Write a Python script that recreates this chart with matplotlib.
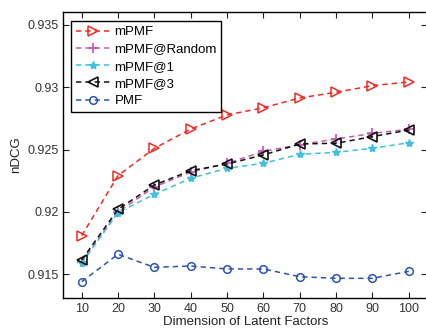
import matplotlib
matplotlib.use("Agg")
import matplotlib.pyplot as plt

plt.rcParams['font.family'] = ['Liberation Sans', 'DejaVu Sans']

dims = [10, 20, 30, 40, 50, 60, 70, 80, 90, 100]
mpmf = [0.91809, 0.92291, 0.9251, 0.92665, 0.92778, 0.92836, 0.92914, 0.9296, 0.93013, 0.93043]
mpmf_random = [0.9160, 0.9200, 0.9220, 0.9232, 0.9239, 0.92485, 0.9254, 0.92585, 0.9263, 0.92663]
mpmf_1 = [0.91587, 0.91995, 0.92141, 0.9227, 0.9235, 0.9239, 0.92462, 0.92478, 0.9251, 0.92555]
mpmf_3 = [0.91614, 0.92021, 0.92216, 0.92331, 0.92384, 0.92457, 0.92545, 0.92551, 0.92604, 0.92657]
pmf = [0.9144, 0.9166, 0.91555, 0.91566, 0.91542, 0.91542, 0.9148, 0.91467, 0.91467, 0.91523]

xticks = [10, 20, 30, 40, 50, 60, 70, 80, 90, 100]
yticks = [0.915, 0.92, 0.925, 0.93, 0.935]
ytick_labels = ['0.915', '0.92', '0.925', '0.93', '0.935']

fig = plt.figure(figsize=(4.26, 3.31), dpi=100)
ax = fig.add_axes([63.5/426, 1-298/331, (427-63.5)/426, (298-12)/331])

lw = 1.1
dash = (3.5, 2.6)
ax.plot(dims, mpmf, linestyle='--', dashes=dash, color='#ee2b24', marker='>', markerfacecolor='none',
        markeredgecolor='#ee2b24', markersize=6.5, markeredgewidth=1.1, lw=lw, label='mPMF')
ax.plot(dims, mpmf_random, linestyle='--', dashes=dash, color='#c75bb4', marker='+', markersize=6.5,
        markeredgewidth=1.3, lw=lw, label='mPMF@Random')
ax.plot(dims, mpmf_1, linestyle='--', dashes=dash, color='#3fc0dc', marker='*', markersize=6,
        markeredgewidth=1.0, lw=lw, label='mPMF@1')
ax.plot(dims, mpmf_3, linestyle='--', dashes=dash, color='#111111', marker='<', markerfacecolor='none',
        markersize=6.5, markeredgewidth=1.2, lw=lw, label='mPMF@3')
ax.plot(dims, pmf, linestyle='--', dashes=dash, color='#2d54b0', marker='o', markerfacecolor='none',
        markersize=5.5, markeredgewidth=1.1, lw=lw, label='PMF')

ax.set_xlim(5, 105)
ax.set_ylim(0.91309, 0.93604)
ax.set_xticks(xticks)
ax.set_yticks(yticks)
ax.set_yticklabels(ytick_labels)
ax.tick_params(direction='in', top=True, right=True, labelsize=9, length=4,
               color='#222222', labelcolor='#333333')
for s in ax.spines.values():
    s.set_linewidth(1.0)
ax.set_xlabel('Dimension of Latent Factors', fontsize=9.5, labelpad=1, color='#222222')
ax.set_ylabel('nDCG', fontsize=9.5, labelpad=4, color='#222222')

leg = ax.legend(loc='upper left', bbox_to_anchor=(0.022, 0.967), fontsize=9.5,
                frameon=True, fancybox=False, edgecolor='black', framealpha=1,
                handlelength=2.6, handletextpad=0.3, borderpad=0.35, labelspacing=0.38,
                borderaxespad=0)
leg.get_frame().set_linewidth(1.0)

fig.savefig('out.png', dpi=100)
